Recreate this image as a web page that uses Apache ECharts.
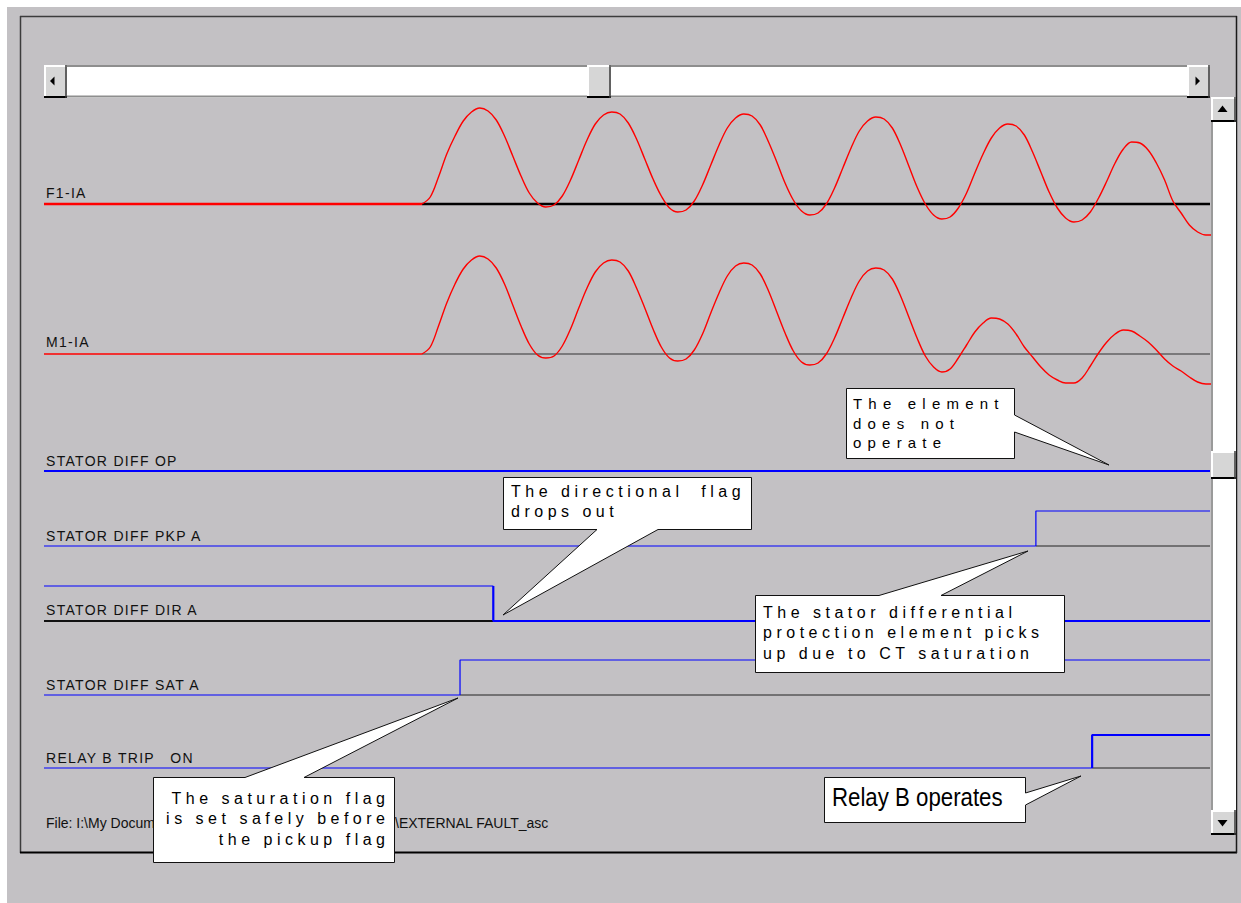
<!DOCTYPE html>
<html><head><meta charset="utf-8">
<script src="https://cdn.jsdelivr.net/npm/echarts@6/dist/echarts.min.js"></script>
<style>
html,body{margin:0;padding:0;background:#ffffff;}
#chart{width:1241px;height:903px;}
#chart text[style*="lsLabel"]{letter-spacing:1.3px;}
#chart text[style*="lsWide"]{letter-spacing:6.2px;}
#chart text[style*="lsNote"]{letter-spacing:4.5px;}
</style></head><body><div id="chart"></div>
<script>
// ---- data (time in ms, fault inception at t = 0; 16 samples per 60 Hz cycle) ----
const SAMPLE_MS = 1000 / 60 / 16;
const T_MIN = -47.72;
const T_MAX = 99.48;

const ANALOG_NAMES = ['F1-IA', 'M1-IA'];
const F1_IA = [0, 7, 27, 50, 68, 83, 92, 96,
  93, 84, 68, 48, 28, 11, 1, -3,
  -1, 8, 24, 44, 64, 80, 89, 92,
  90, 81, 65, 45, 25, 8, -4, -8,
  -6, 3, 19, 39, 59, 76, 86, 90,
  88, 79, 62, 42, 21, 4, -7, -11,
  -9, 0, 16, 36, 56, 73, 83, 87,
  85, 76, 59, 38, 17, 0, -11, -15,
  -13, -4, 11, 31, 50, 66, 76, 80,
  78, 69, 52, 32, 12, -4, -14, -18,
  -16, -8, 6, 23, 41, 55, 62, 61,
  54, 41, 24, 3, -9, -21, -28, -31, -31];
const M1_IA = [0, 7, 28, 51, 70, 85, 94, 98,
  95, 86, 70, 49, 28, 10, -1, -4,
  -2, 8, 25, 46, 66, 82, 91, 94,
  92, 83, 66, 46, 25, 7, -4, -7,
  -5, 4, 20, 41, 61, 78, 88, 91,
  89, 80, 63, 42, 21, 3, -8, -11,
  -9, 0, 16, 36, 56, 73, 83, 86,
  84, 75, 58, 37, 16, -2, -13, -18,
  -15, -4, 9, 22, 31, 36, 35, 30,
  20, 7, -3, -13, -21, -26, -29, -29,
  -24, -12, 1, 12, 20, 24, 23, 18,
  12, 4, -5, -12, -17, -23, -28, -30, -30];

const DIGITAL_NAMES = ['STATOR DIFF OP', 'STATOR DIFF PKP A', 'STATOR DIFF DIR A', 'STATOR DIFF SAT A', 'RELAY B TRIP   ON'];
const DIGITAL_INITIAL = [0, 0, 1, 0, 0];
const DIGITAL_EDGE_MS = [null, 77.5, 9.0, 4.8, 84.6];

const FILE_HEAD = 'File: I:\\My Documents';
const FILE_TAIL = '\\EXTERNAL FAULT_asc';

const NOTE_ELEMENT = 'The element\ndoes not\noperate';
const NOTE_DIR = 'The directional  flag\ndrops out';
const NOTE_PKP = 'The stator differential\nprotection element picks\nup due to CT saturation';
const NOTE_SAT = 'The saturation flag\nis set safely before\nthe pickup flag';
const NOTE_TRIP = 'Relay B operates';

// ---- layout ----
const PLOT_LEFT = 44, PLOT_W = 1166;
const ANALOG_TOPS = [104, 254];
const DIGITAL_BASE = [471, 546, 621, 695, 768];
const DIGITAL_H = [35, 35, 35, 35, 33];
const DIG_LOW_W = [2.2, 1.2, 2.2, 1.2, 1.2];
const DIG_HIGH_W = [2.2, 1.2, 1.2, 1.2, 2.2];
const RED = '#ff0000', BLUE = '#0000ff';

const grids = [], xAxes = [], yAxes = [], series = [];
function addGrid(top, height, ymin, ymax) {
  grids.push({left: PLOT_LEFT, width: PLOT_W, top: top, height: height, containLabel: false, outerBoundsMode: 'none', show: false});
  const i = grids.length - 1;
  xAxes.push({type: 'value', gridIndex: i, min: T_MIN, max: T_MAX, show: false});
  yAxes.push({type: 'value', gridIndex: i, min: ymin, max: ymax, show: false});
  return i;
}
function lineSeries(g, data, color, width, z, extra) {
  return Object.assign({type: 'line', xAxisIndex: g, yAxisIndex: g, data: data, showSymbol: false, symbol: 'none',
    lineStyle: {color: color, width: width}, z: z, silent: true, animation: false, clip: false}, extra || {});
}

// analog channels
[F1_IA, M1_IA].forEach(function (vals, c) {
  const g = addGrid(ANALOG_TOPS[c], 140, -40, 100);
  series.push(lineSeries(g, [[0, 0], [T_MAX, 0]], c === 0 ? '#000000' : '#333333', c === 0 ? 2.4 : 1.2, 2));
  series.push(lineSeries(g, [[T_MIN, 0], [0, 0]], RED, c === 0 ? 2.6 : 1.6, 3));
  series.push(lineSeries(g, vals.map(function (v, k) { return [k * SAMPLE_MS, v]; }), RED, 1.4, 4, {smooth: 0.35, clip: true}));
});

// digital channels
DIGITAL_NAMES.forEach(function (name, i) {
  const base = DIGITAL_BASE[i], h = DIGITAL_H[i];
  const g = addGrid(base - h, h, 0, 1);
  const init = DIGITAL_INITIAL[i], edge = DIGITAL_EDGE_MS[i];
  const wOf = function (s) { return s ? DIG_HIGH_W[i] : DIG_LOW_W[i]; };
  if (edge == null) {
    series.push(lineSeries(g, [[T_MIN, init], [T_MAX, init]], BLUE, wOf(init), 3));
  } else {
    const fin = 1 - init;
    if (init === 1) series.push(lineSeries(g, [[T_MIN, 0], [edge, 0]], '#111111', DIG_LOW_W[i], 2));
    else series.push(lineSeries(g, [[edge, 0], [T_MAX, 0]], '#222222', DIG_LOW_W[i] > 1.5 ? 2 : 1, 2));
    series.push(lineSeries(g, [[T_MIN, init], [edge, init]], BLUE, wOf(init), 3));
    series.push(lineSeries(g, [[edge, init], [edge, fin], [T_MAX, fin]], BLUE, wOf(fin), 3));
  }
});

// ---- window chrome and notes ----
const G = [];
function rect(x, y, w, h, fill, z, stroke, lw) {
  return {type: 'rect', shape: {x: x, y: y, width: w, height: h}, style: {fill: fill, stroke: stroke || null, lineWidth: lw || 0}, z: z, silent: true};
}
function seg(x1, y1, x2, y2, stroke, lw, z) {
  return {type: 'line', shape: {x1: x1, y1: y1, x2: x2, y2: y2}, style: {stroke: stroke, lineWidth: lw}, z: z, silent: true};
}
function poly(pts, fill, z, stroke) {
  return {type: 'polygon', shape: {points: pts}, style: {fill: fill, stroke: stroke || null, lineWidth: stroke ? 1 : 0}, z: z, silent: true};
}
function txt(x, y, s, size, fam, opts) {
  opts = opts || {};
  const st = {text: s, fontSize: size, fontFamily: fam, fill: opts.fill || '#000000',
      align: opts.align || 'left', verticalAlign: opts.va || 'middle', lineHeight: opts.lh || size * 1.2};
  if (opts.width) { st.width = opts.width; st.overflow = 'truncate'; st.ellipsis = ''; }
  const el = {type: 'text', x: x, y: y, z: opts.z || 20, silent: true, style: st};
  if (opts.scaleX) el.scaleX = opts.scaleX;
  return el;
}
function button(x, y, w, h) {
  G.push(rect(x, y, w, h, '#d6d6d6', 6));
  G.push(seg(x, y + 1, x + w, y + 1, '#ffffff', 2, 7));
  G.push(seg(x + 1, y, x + 1, y + h, '#ffffff', 2, 7));
  G.push(seg(x, y + h - 1, x + w, y + h - 1, '#000000', 2, 7));
  G.push(seg(x + w - 1, y, x + w - 1, y + h, '#3a3a3a', 1.5, 7));
}

G.push(rect(7, 7, 1234, 896, '#c3c1c4', 0));
// frame
G.push(seg(20, 16.5, 1237, 16.5, '#3c3c3c', 1.5, 1));
G.push(seg(20.5, 16, 20.5, 853, '#3c3c3c', 1.5, 1));
G.push(seg(20, 852.5, 1237, 852.5, '#000000', 2.2, 1));
G.push(seg(1236.5, 16, 1236.5, 853, '#1a1a1a', 1.5, 1));
// horizontal scrollbar
G.push(rect(44, 65, 1166, 33, '#ffffff', 5));
G.push(seg(44, 66, 1210, 66, '#8e8e8e', 2, 5));
G.push(seg(44, 96.5, 1210, 96.5, '#8e8e8e', 2, 5));
button(44, 65, 23, 33);
button(587, 65, 24, 33);
button(1187, 65, 23, 33);
G.push(poly([[50, 81], [54.5, 76.5], [54.5, 85.5]], '#000000', 8));
G.push(poly([[1200, 81], [1195.5, 76.5], [1195.5, 85.5]], '#000000', 8));
// vertical scrollbar
G.push(rect(1211, 97, 25, 738, '#ffffff', 5));
G.push(seg(1212, 97, 1212, 835, '#9a9a9a', 2, 5));
button(1211, 97, 25, 25);
button(1211, 451, 25, 28);
button(1211, 810, 25, 25);
G.push(poly([[1222.5, 105.5], [1217.5, 112], [1227.5, 112]], '#000000', 8));
G.push(poly([[1217.5, 820], [1227.5, 820], [1222.5, 826.5]], '#000000', 8));

// channel labels
const LABEL_FAM = 'Arial, lsLabel';
const LABEL_Y = [193, 342, 461, 536, 610, 685, 758];
ANALOG_NAMES.concat(DIGITAL_NAMES).forEach(function (n, i) {
  G.push(txt(46, LABEL_Y[i], n, 14, LABEL_FAM, {fill: '#111111', z: 10}));
});
G.push(txt(46, 823, FILE_HEAD, 14, 'Arial', {fill: '#111111', z: 10, width: 113}));
G.push(txt(395, 823, FILE_TAIL, 14, 'Arial', {fill: '#111111', z: 10}));

// callouts
G.push(poly([[846.5, 388.5], [1014.5, 388.5], [1014.5, 415], [1109, 465], [1014.5, 432], [1014.5, 458.5], [846.5, 458.5]], '#ffffff', 30, '#111111'));
G.push(poly([[503.5, 477.5], [751.5, 477.5], [751.5, 529.5], [658, 529.5], [503, 615], [597, 529.5], [503.5, 529.5]], '#ffffff', 30, '#111111'));
G.push(poly([[755.5, 595.5], [879, 595.5], [1028, 551], [941, 595.5], [1064.5, 595.5], [1064.5, 672.5], [755.5, 672.5]], '#ffffff', 30, '#111111'));
G.push(poly([[153.5, 777.5], [245, 777.5], [458, 698], [304, 777.5], [394.5, 777.5], [394.5, 862.5], [153.5, 862.5]], '#ffffff', 30, '#111111'));
G.push(poly([[824.5, 777.5], [1025.5, 777.5], [1025.5, 793], [1081, 776], [1025.5, 805], [1025.5, 822.5], [824.5, 822.5]], '#ffffff', 30, '#111111'));

G.push(txt(853, 393.9, NOTE_ELEMENT, 15, 'Arial, lsWide', {va: 'top', lh: 19.5, z: 31}));
G.push(txt(511, 481, NOTE_DIR, 16, 'Arial, lsNote', {va: 'top', lh: 20.5, z: 31}));
G.push(txt(763, 602, NOTE_PKP, 16, 'Arial, lsNote', {va: 'top', lh: 20.5, z: 31}));
G.push(txt(389.5, 788, NOTE_SAT, 16, 'Arial, lsNote', {va: 'top', lh: 20.5, align: 'right', z: 31}));
G.push(txt(832, 797.5, NOTE_TRIP, 25, 'Arial', {scaleX: 0.89, z: 31}));

const chart = echarts.init(document.getElementById('chart'), null, {renderer: 'svg', width: 1241, height: 903});
chart.setOption({
  animation: false,
  backgroundColor: '#ffffff',
  grid: grids,
  xAxis: xAxes,
  yAxis: yAxes,
  series: series,
  graphic: {elements: G}
});
</script></body></html>
